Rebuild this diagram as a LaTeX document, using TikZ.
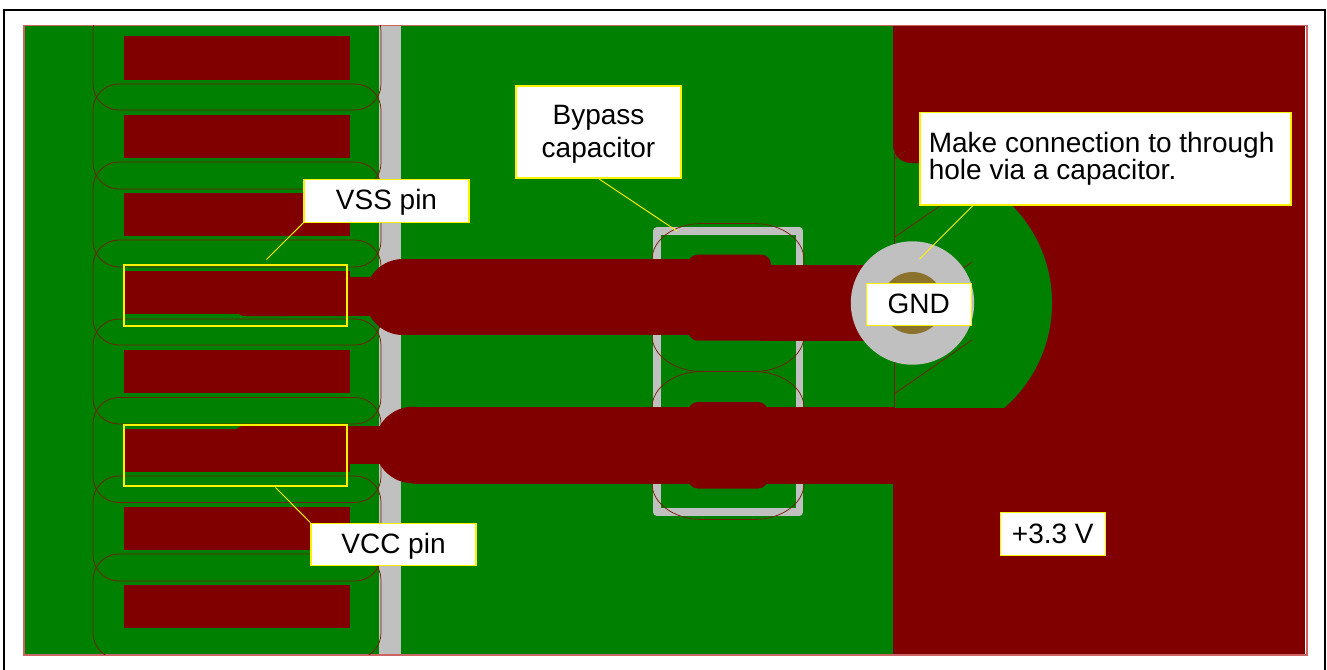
\documentclass[tikz,border=0pt]{standalone}
\usepackage{fontspec}
\setmainfont{Liberation Sans}
\definecolor{board}{RGB}{0,128,0}
\definecolor{copper}{RGB}{128,0,0}
\definecolor{silk}{RGB}{192,192,192}
\definecolor{drill}{RGB}{139,115,45}
\definecolor{edge}{RGB}{205,100,100}
\definecolor{outl}{RGB}{115,30,0}
\tikzset{
	callout/.style = {draw = yellow, line width = 0.85pt, fill = white, inner sep = 0pt, font = \fontsize{21}{20.6}\selectfont},
	tag/.style = {callout, text height = 15pt, text depth = 1.4pt},
	leader/.style = {draw = yellow, line width = 0.7pt},
	pinbox/.style = {draw = yellow, line width = 0.8pt},
	pinoutl/.style = {draw = outl, line width = 0.55pt, rounded corners = 19.5pt},
	capoutl/.style = {draw = outl, line width = 0.55pt},
	hatch/.style = {draw = outl, line width = 0.55pt},
	trace/.style = {fill = copper}
}

\begin{document}
\begin{tikzpicture}[x = 1pt, y = -1pt, scale = 0.75]
		\useasboundingbox (0, 0) rectangle (1327, 669);
		\fill [white] (0, 0) rectangle (1327, 669);
		\draw [line width = 1.6pt] (4, 720) -- (4, 10) -- (1325, 10) -- (1325, 720);
		%%%%%%%%%%%%%
		\fill [board] (24, 25.5) rectangle (893, 654.5);
		\fill [copper] (893, 25.5) rectangle (1305, 654);
		\draw [edge, line width = 0.8pt] (24, 25.5) rectangle (1307, 655);
		\fill [silk] (379, 26) rectangle (401, 654);
		%%%%%%%%%%%%% clearance round the via
		\begin{scope}
			\clip (893, 100) rectangle (1100, 407);
			\fill [board] (913, 303) circle [radius = 139];
		\end{scope}
		\fill [board] (893, 130) rectangle (930, 200);
		\fill [copper, rounded corners = 13.5pt] (893, 100) rectangle (1000, 163);
		\draw [hatch] (894, 150) -- (894, 407);
		\draw [hatch] (894, 159) -- (905, 151);
		\draw [hatch] (894, 237.5) -- (972, 184);
		\draw [hatch] (894, 316) -- (972, 262);
		\draw [hatch] (894, 394) -- (972, 340);
		%%%%%%%%%%%%% pin outlines
		\begin{scope}
			\clip (24, 25.5) rectangle (1307, 654.5);
			\foreach \ytop in {5, 84, 162, 240, 319, 397.5, 476, 554}
				\draw [pinoutl] (93, \ytop) rectangle (381, \ytop + 105);
		\end{scope}
		%%%%%%%%%%%%% pads
		\foreach \ytop/\ylow in {36/80, 115/158, 193/236, 271/314, 350/393, 428.5/471.5, 507/550, 585/628}
			\fill [copper] (124, \ytop) rectangle (350, \ylow);
		%%%%%%%%%%%%% capacitor
		\draw [silk, line width = 5.6pt, line join = round] (657, 231) rectangle (799.5, 512);
		\foreach \ytop in {223.5, 371.5}
			\draw [capoutl] (702, \ytop) -- (754, \ytop)
				.. controls (781.6, \ytop) and (804, \ytop + 16.1) .. (804, \ytop + 36) -- (804, \ytop + 112)
				.. controls (804, \ytop + 131.9) and (781.6, \ytop + 148) .. (754, \ytop + 148) -- (702, \ytop + 148)
				.. controls (674.4, \ytop + 148) and (652, \ytop + 131.9) .. (652, \ytop + 112) -- (652, \ytop + 36)
				.. controls (652, \ytop + 16.1) and (674.4, \ytop) .. (702, \ytop) -- cycle;
		%%%%%%%%%%%%% traces
		\fill [trace, rounded corners = 10pt] (232, 277) rectangle (300, 316);
		\fill [trace] (280, 277) rectangle (370, 316);
		\fill [trace] (403, 297) circle [radius = 38];
		\fill [trace] (403, 259) rectangle (730, 335);
		\fill [trace, rounded corners = 7.5pt] (688, 254.5) rectangle (771, 340.7);
		\fill [trace] (760, 265) rectangle (870, 340.7);
		\fill [trace, rounded corners = 10pt] (232, 425.5) rectangle (300, 464);
		\fill [trace] (280, 425.5) rectangle (380, 464);
		\fill [trace] (413, 445) circle [radius = 38.3];
		\fill [trace] (413, 406.7) rectangle (895, 483.5);
		\fill [trace, rounded corners = 7.5pt] (688, 402) rectangle (768, 488.5);
		%%%%%%%%%%%%% via
		\fill [silk] (912.5, 303) circle [radius = 61.7];
		\fill [drill] (912.5, 303) circle [radius = 31];
		%%%%%%%%%%%%% pin markers
		\draw [pinbox] (124, 265) rectangle (347, 326);
		\draw [pinbox] (124, 425) rectangle (347, 486);
		%%%%%%%%%%%%%
		\coordinate (vssend) at (266.5, 259.5);
		\coordinate (vccend) at (275.5, 487.5);
		\coordinate (capend) at (677, 231);
		\coordinate (viaend) at (919.5, 259);
		\node [tag, minimum width = 123.75pt, minimum height = 32pt] (vss) at (386.5, 200.75) {VSS pin};
		\node [tag, minimum width = 123.75pt, minimum height = 32pt] (vcc) at (393.5, 544.5) {VCC pin};
		\node [callout, minimum width = 123.75pt, minimum height = 69pt, align = center] (bypass) at (598.5, 132) {\rule{0pt}{18pt}Bypass\\[4.4pt]capacitor};
		\node [callout, minimum width = 278.25pt, minimum height = 69.4pt, text width = 265pt, align = flush left] (conn) at (1105.5, 158.75) {Make connection to through\\hole via a capacitor.};
		\node [tag, minimum width = 79pt, minimum height = 32pt] (gnd) at (918.75, 304.5) {GND};
		\node [tag, minimum width = 79pt, minimum height = 32pt] (supply) at (1052.75, 534) {+3.3 V};
		\draw [leader] (vss.south west) to (vssend);
		\draw [leader] (vcc.north west) to (vccend);
		\draw [leader] (bypass.south) to (capend);
		\draw [leader] (conn.south west) ++ (53.5, 0) to (viaend);
\end{tikzpicture}
\end{document}
